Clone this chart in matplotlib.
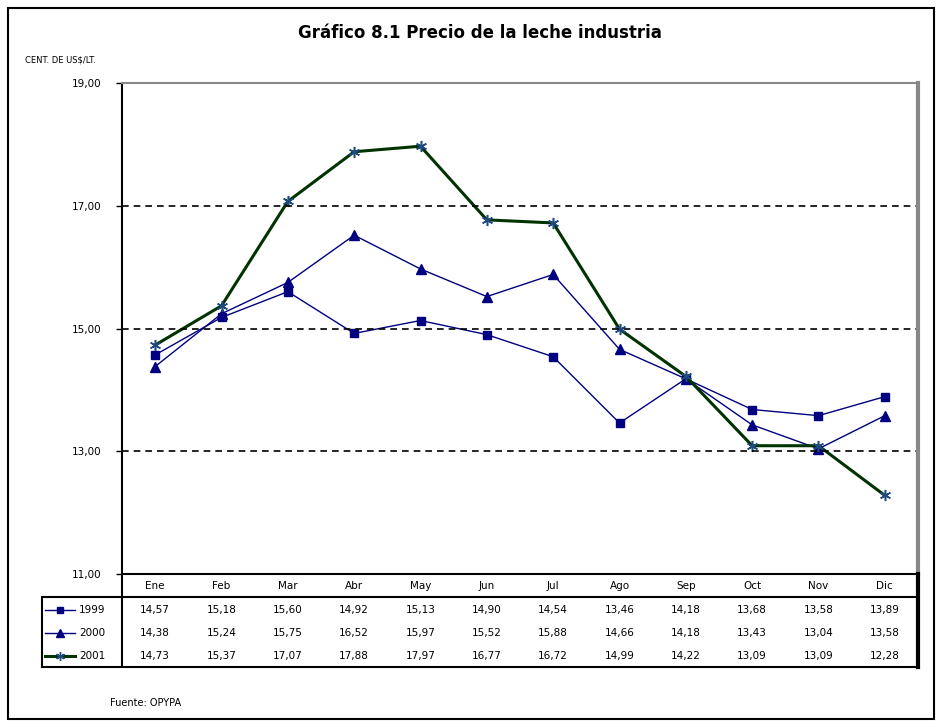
import matplotlib.pyplot as plt
from matplotlib.lines import Line2D
from matplotlib.patches import Rectangle

months = ['Ene', 'Feb', 'Mar', 'Abr', 'May', 'Jun', 'Jul', 'Ago', 'Sep', 'Oct', 'Nov', 'Dic']
years = ['1999', '2000', '2001']
v1999 = [14.57, 15.18, 15.60, 14.92, 15.13, 14.90, 14.54, 13.46, 14.18, 13.68, 13.58, 13.89]
v2000 = [14.38, 15.24, 15.75, 16.52, 15.97, 15.52, 15.88, 14.66, 14.18, 13.43, 13.04, 13.58]
v2001 = [14.73, 15.37, 17.07, 17.88, 17.97, 16.77, 16.72, 14.99, 14.22, 13.09, 13.09, 12.28]
yticks = [11, 13, 15, 17, 19]

series = [v1999, v2000, v2001]
styles = [
    dict(color='#000080', lw=1, marker='s', ms=5.5, mfc='#000080', mec='#000080'),
    dict(color='#000080', lw=1, marker='^', ms=6.5, mfc='#000080', mec='#000080'),
    dict(color='#003300', lw=2.2, marker=(6, 2, 0), ms=8, mfc='#1f4a80', mec='#1f4a80', mew=1.1),
]

W, H = 940, 722
fig = plt.figure(figsize=(W / 100, H / 100), dpi=100)


def fx(px):
    return px / W


def fy(py):
    return 1 - py / H


# outer frame
fig.patches.append(Rectangle((fx(8), fy(719)), fx(926), 711 / H, transform=fig.transFigure,
                             fill=False, ec='black', lw=1.5))

# plot area
L, R, T, B = 122, 918, 83, 574
ax = fig.add_axes([fx(L), fy(B), fx(R - L), (B - T) / H])
x = list(range(len(months)))
for vals, st in zip(series, styles):
    ax.plot(x, vals, **st)
ax.set_xlim(-0.5, 11.5)
ax.set_ylim(11, 19)
ax.set_yticks(yticks)
ax.set_yticklabels([('%.2f' % t).replace('.', ',') for t in yticks], fontsize=7.5)
ax.tick_params(axis='y', length=4, width=1, pad=11)
ax.set_xticks([])
for t in [13, 15, 17]:
    ax.axhline(t, color='black', lw=1.2, ls=(0, (4, 3)))
ax.spines['left'].set_linewidth(1.5)
ax.spines['bottom'].set_linewidth(1.5)
ax.spines['top'].set_color('#888888')
ax.spines['top'].set_linewidth(1.5)
ax.spines['right'].set_color('#888888')
ax.spines['right'].set_linewidth(3)

# table area below plot
TL, TB = 42, 667
slot = (R - L) / 12
tab = fig.add_axes([fx(TL), fy(TB), fx(R - TL), (TB - B) / H])
x0 = -0.5 - (L - TL) / slot
tab.set_xlim(x0, 11.5)
tab.set_ylim(TB, B)
tab.axis('off')
# borders
tab.plot([-0.5, -0.5], [B, TB], color='black', lw=1.5)
tab.plot([11.5, 11.5], [B, TB], color='black', lw=3, clip_on=False)
tab.plot([x0, 11.5], [597, 597], color='black', lw=1.5)
tab.plot([x0, 11.5], [TB, TB], color='black', lw=1.5, clip_on=False)
tab.plot([x0, x0], [597, TB], color='black', lw=1.5, clip_on=False)
for i, m in enumerate(months):
    tab.text(i, 586, m, ha='center', va='center', fontsize=7.5)
row_y = [610, 633, 656]
for yr, vals, st, ry in zip(years, series, styles, row_y):
    kx0 = x0 + 3 / slot
    kx1 = x0 + 33 / slot
    tab.add_line(Line2D([kx0, kx1], [ry, ry], color=st['color'], lw=st['lw']))
    tab.plot([(kx0 + kx1) / 2], [ry], marker=st['marker'], ms=st['ms'] * 0.8,
             mfc=st['mfc'], mec=st['mec'], ls='none')
    tab.text(x0 + 37 / slot, ry, yr, ha='left', va='center', fontsize=7.5)
    for i, v in enumerate(vals):
        tab.text(i, ry, ('%.2f' % v).replace('.', ','), ha='center', va='center', fontsize=7.5)

fig.text(fx(480), fy(33), 'Gráfico 8.1 Precio de la leche industria', ha='center', va='center',
         fontsize=12, fontweight='bold')
fig.text(fx(25), fy(60), 'CENT. DE US$/LT.', ha='left', va='center', fontsize=6)
fig.text(fx(110), fy(703), 'Fuente: OPYPA', ha='left', va='center', fontsize=7)

fig.savefig('out.png', dpi=100)
